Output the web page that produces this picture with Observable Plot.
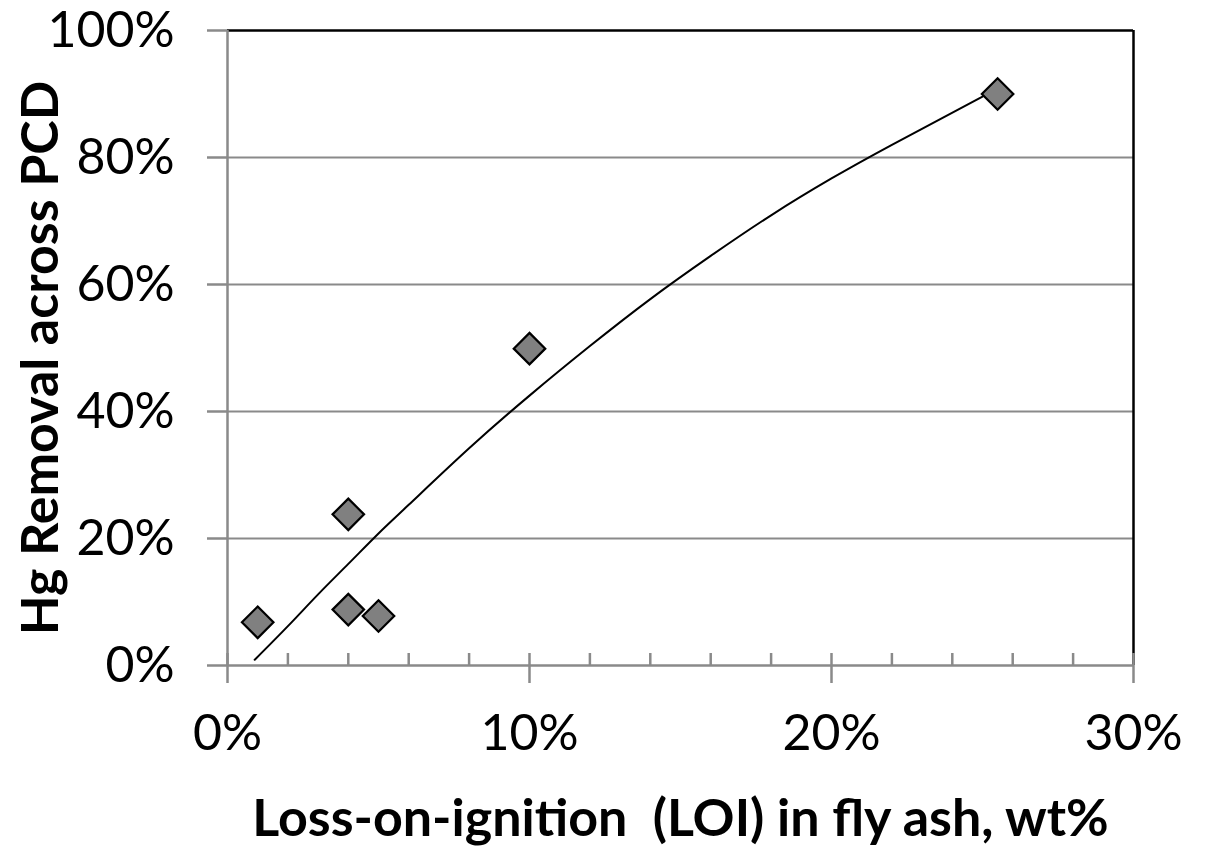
<!DOCTYPE html>
<html>
<head>
<meta charset="utf-8">
<script src="https://cdn.jsdelivr.net/npm/d3@7"></script>
<script src="https://cdn.jsdelivr.net/npm/@observablehq/plot@0.6"></script>
<style>
  html, body { margin: 0; padding: 0; background: #fff; }
  svg text { white-space: pre; }
</style>
</head>
<body>
<div id="chart"></div>
<script>
// Measured points: LOI (%) vs Hg removal (%)
const loi = [1.0, 4.0, 4.0, 5.0, 10.0, 25.5];
const hgRemoval = [6.8, 23.8, 8.8, 7.8, 49.9, 90.0];

// Trend line (LOI %, removal %)
const trendLoi = [0.9, 2, 3, 4, 5, 6, 8, 10, 12, 14, 16, 18, 20, 22, 25];
const trendRemoval = [0.9, 6.2, 11.2, 16.0, 20.8, 25.3, 34.2, 42.5, 50.3, 57.7, 64.5, 70.9, 76.7, 82.0, 89.6];

const xMajor = [0, 10, 20, 30];
const xMinor = [2, 4, 6, 8, 12, 14, 16, 18, 22, 24, 26, 28];
const yTicks = [0, 20, 40, 60, 80, 100];
const yGrid = [20, 40, 60, 80];

const xTitle = "Loss-on-ignition  (LOI) in fly ash, wt%";
const yTitle = "Hg Removal across PCD";

const points = loi.map((x, i) => ({x, y: hgRemoval[i]}));
const trend = trendLoi.map((x, i) => ({x, y: trendRemoval[i]}));

const FONT = "Lato, 'Open Sans', sans-serif";
const GRAY = "#8a8a8a";

const chart = Plot.plot({
  width: 1205,
  height: 847,
  marginLeft: 227,
  marginRight: 72,
  marginTop: 30,
  marginBottom: 182,
  style: {fontFamily: FONT, background: "#fff"},
  x: {domain: [0, 30]},
  y: {domain: [0, 100]},
  marks: [
    Plot.gridY(yGrid, {stroke: GRAY, strokeOpacity: 1, strokeWidth: 2}),
    Plot.ruleY([100], {stroke: "#000", strokeWidth: 2.5}),
    Plot.ruleX([30], {stroke: "#000", strokeWidth: 2.5}),
    Plot.ruleX([0], {stroke: GRAY, strokeWidth: 2.5}),
    Plot.axisY({ticks: yTicks, tickSize: 20, tickPadding: 33, stroke: GRAY, strokeWidth: 2.5,
      tickFormat: d => d + "%", fontSize: 50, fill: "#000", label: null}),
    Plot.ruleY([0], {stroke: GRAY, strokeWidth: 2.5}),
    Plot.axisX({ticks: xMinor, tickSize: 12, dy: -12, text: null, stroke: GRAY, strokeWidth: 2.5, label: null}),
    Plot.axisX({ticks: xMajor, tickSize: 30, dy: -12, text: null, stroke: GRAY, strokeWidth: 2.5, label: null}),
    Plot.axisX({ticks: xMajor, tickSize: 0, tickPadding: 49, tickFormat: d => d + "%",
      fontSize: 50, fill: "#000", label: null}),
    Plot.dot(points, {x: "x", y: "y", symbol: "diamond2", r: 14.2, fill: "#808080",
      stroke: "#000", strokeWidth: 2.2}),
    Plot.line(trend, {x: "x", y: "y", curve: "natural", stroke: "#000", strokeWidth: 2}),
    Plot.text([xTitle], {frameAnchor: "bottom", dy: 170, lineAnchor: "bottom", textAnchor: "middle",
      fontSize: 52, fontWeight: "bold", fill: "#000"}),
    Plot.text([yTitle], {frameAnchor: "left", rotate: -90, dx: -170, dy: 10, lineAnchor: "bottom",
      textAnchor: "middle", fontSize: 52, fontWeight: "bold", fill: "#000"})
  ]
});
document.getElementById("chart").appendChild(chart);
</script>
</body>
</html>
